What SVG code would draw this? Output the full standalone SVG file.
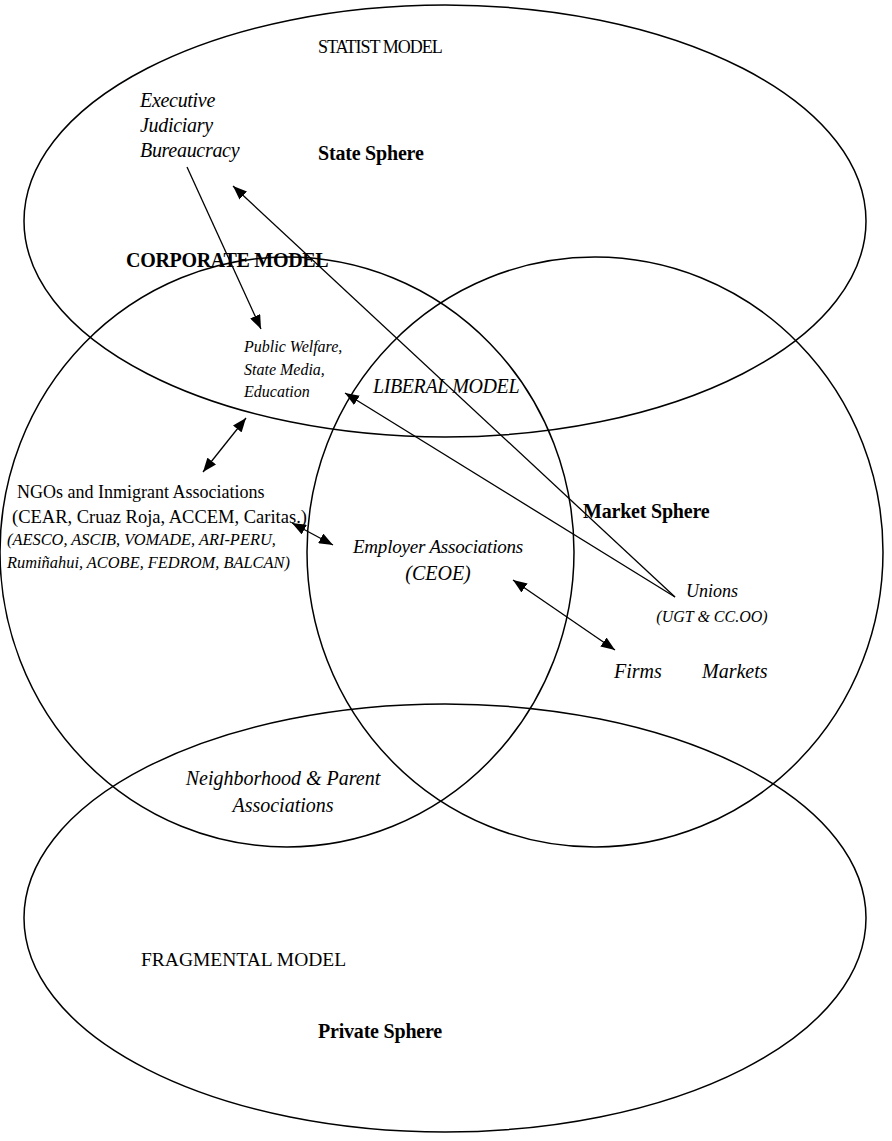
<svg xmlns="http://www.w3.org/2000/svg" width="892" height="1141" viewBox="0 0 892 1141">
<defs>
<style>
text{font-family:"Liberation Serif","Times New Roman",serif;fill:#000}
.reg{font-size:18px;letter-spacing:-1px}
.bold{font-size:20px;font-weight:bold;letter-spacing:-0.2px}
.it{font-style:italic;font-size:20px}
.its{font-style:italic;font-size:16px}
.sphere{fill:none;stroke:#000;stroke-width:1.5}
.conn{fill:none;stroke:#000;stroke-width:1.3}
</style>
<marker id="ah" viewBox="0 0 14 11" refX="14" refY="5.5" markerWidth="14" markerHeight="11" markerUnits="userSpaceOnUse" orient="auto-start-reverse">
<path d="M0,0 L14,5.5 L0,11 Z" fill="#000"/>
</marker>
</defs>
<rect width="892" height="1141" fill="#fff"/>

<g id="statist">
<ellipse class="sphere" cx="445" cy="221" rx="421" ry="216"/>
<text class="reg" x="318" y="53">STATIST MODEL</text>
<text class="it" x="140" y="107" style="letter-spacing:-0.3px">Executive</text>
<text class="it" x="140" y="132" style="letter-spacing:-0.3px">Judiciary</text>
<text class="it" x="140" y="157" style="letter-spacing:-0.3px">Bureaucracy</text>
<text class="bold" x="318" y="160">State Sphere</text>
</g>

<g id="corporate">
<ellipse class="sphere" cx="287" cy="552" rx="287" ry="295"/>
<text class="bold" x="126" y="267" style="letter-spacing:-0.3px">CORPORATE MODEL</text>
</g>

<g id="liberal">
<ellipse class="sphere" cx="595" cy="552" rx="288" ry="295"/>
<text class="it" x="373" y="393" style="letter-spacing:-0.4px">LIBERAL MODEL</text>
<text class="bold" x="583" y="518">Market Sphere</text>
</g>

<g id="fragmental">
<ellipse class="sphere" cx="445" cy="918" rx="421" ry="214"/>
<text x="141" y="966" style="font-size:19.5px">FRAGMENTAL MODEL</text>
<text class="bold" x="318" y="1038">Private Sphere</text>
</g>

<g id="public-welfare">
<text class="its" x="244" y="352">Public Welfare,</text>
<text class="its" x="244" y="375">State Media,</text>
<text class="its" x="244" y="397">Education</text>
</g>

<g id="ngos">
<text x="17" y="498" style="font-size:18px">NGOs and Inmigrant Associations</text>
<text x="12" y="523" style="font-size:18.5px">(CEAR, Cruaz Roja, ACCEM, Caritas.)</text>
<text class="its" x="7" y="545" style="font-size:16.4px">(AESCO, ASCIB, VOMADE, ARI-PERU,</text>
<text class="its" x="7" y="568" style="font-size:16.4px">Rumiñahui, ACOBE, FEDROM, BALCAN)</text>
</g>

<g id="employer">
<text class="it" x="438" y="553" text-anchor="middle" style="font-size:19px;letter-spacing:-0.2px">Employer Associations</text>
<text class="it" x="438" y="580" text-anchor="middle">(CEOE)</text>
</g>

<g id="unions">
<text class="it" x="712" y="597" text-anchor="middle" style="font-size:18px">Unions</text>
<text class="its" x="712" y="622" text-anchor="middle">(UGT &amp; CC.OO)</text>
</g>

<g id="firms-markets">
<text class="it" x="614" y="678">Firms</text>
<text class="it" x="702" y="678">Markets</text>
</g>

<g id="neighborhood">
<text class="it" x="283" y="785" text-anchor="middle">Neighborhood &amp; Parent</text>
<text class="it" x="283" y="812" text-anchor="middle">Associations</text>
</g>

<g id="connectors">
<line class="conn" x1="187" y1="167" x2="261" y2="329" marker-end="url(#ah)"/>
<line class="conn" x1="675" y1="597" x2="233" y2="186" marker-end="url(#ah)"/>
<line class="conn" x1="675" y1="597" x2="345" y2="393" marker-end="url(#ah)"/>
<line class="conn" x1="203" y1="472" x2="246" y2="418" marker-start="url(#ah)" marker-end="url(#ah)"/>
<line class="conn" x1="292" y1="523" x2="333" y2="545" marker-start="url(#ah)" marker-end="url(#ah)"/>
<line class="conn" x1="513" y1="580" x2="615" y2="650" marker-start="url(#ah)" marker-end="url(#ah)"/>
</g>
</svg>
